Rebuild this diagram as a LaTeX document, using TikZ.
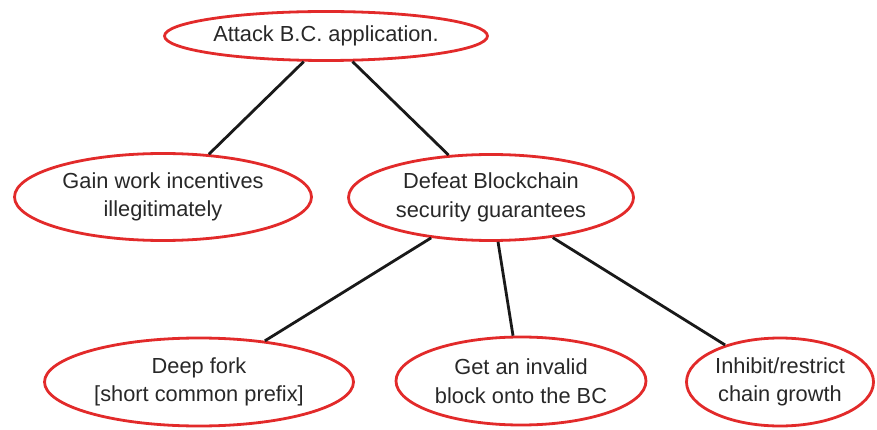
\documentclass[tikz,border=0pt]{standalone}
\usepackage{fontspec}
\setmainfont{Liberation Sans}
\usetikzlibrary{shapes.geometric}
\definecolor{ovalred}{RGB}{226,42,42}
\definecolor{inkgray}{RGB}{40,40,40}
\begin{document}
\begin{tikzpicture}[x=1pt,y=-1pt,
  goal/.style={ellipse, draw=ovalred, line width=2.8pt, inner sep=0pt,
    align=center, text=inkgray,
    font=\fontsize{21.8}{28.5}\selectfont},
  link/.style={draw=black!90, line width=2.8pt}]
\useasboundingbox (0,0) rectangle (877,430);

% goal nodes (centres and sizes in px)
\node[goal, minimum width=323pt, minimum height=49pt] (root) at (326,36) {Attack B.C. application.};
\node[goal, minimum width=297pt, minimum height=87pt] (gain) at (163,197) {Gain work incentives\\illegitimately};
\node[goal, minimum width=285pt, minimum height=86pt] (defeat) at (491,197.5) {Defeat Blockchain\\security guarantees};
\node[goal, minimum width=309pt, minimum height=88pt] (fork) at (199,382) {Deep fork\\{}[short common prefix]};
\node[goal, minimum width=250pt, minimum height=88pt] (invalid) at (521,381) {Get an invalid\\block onto the BC};
\node[goal, minimum width=187pt, minimum height=88pt] (inhibit) at (780,382) {Inhibit/restrict\\chain growth};

% tree edges
\draw[link] (root.-131.5) -- (gain.43);
\draw[link] (root.-44) -- (defeat.135);
\draw[link] (defeat.-146) -- (fork.32);
\draw[link] (defeat.-81.5) -- (invalid.100);
\draw[link] (defeat.-33) -- (inhibit.146);
\end{tikzpicture}
\end{document}
